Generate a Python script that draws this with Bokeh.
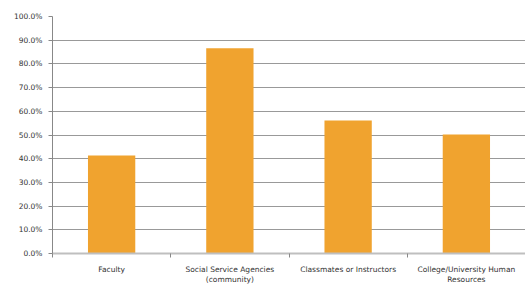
from bokeh.plotting import figure
from bokeh.models import FixedTicker, PrintfTickFormatter, Range1d
from bokeh.embed import file_html
from bokeh.resources import INLINE

categories = ["Faculty", "Social Service Agencies\n(community)", "Classmates or Instructors",
              "College/University Human\nResources"]
values = [41.4, 86.6, 56.1, 50.2]
y_ticks = [0, 10, 20, 30, 40, 50, 60, 70, 80, 90, 100]

x_pos = [i + 0.5 for i in range(len(categories))]

p = figure(width=525, height=287, output_backend="svg", toolbar_location=None,
           x_range=Range1d(0, len(categories)), y_range=Range1d(0, 100),
           min_border_left=52, min_border_right=0, min_border_top=16, min_border_bottom=30)
p.vbar(x=x_pos, top=values, width=0.4, color="#F0A32F", line_color=None)

p.outline_line_color = None
p.xgrid.grid_line_color = None
p.ygrid.grid_line_color = "#999999"
p.ygrid.ticker = FixedTicker(ticks=y_ticks[1:])

p.yaxis.ticker = FixedTicker(ticks=y_ticks)
p.yaxis.formatter = PrintfTickFormatter(format="%.1f%%")
p.yaxis.axis_line_color = "#888888"
p.yaxis.major_tick_line_color = "#888888"
p.yaxis.major_tick_out = 4
p.yaxis.major_tick_in = 0
p.yaxis.minor_tick_line_color = None
p.yaxis.major_label_text_font = "DejaVu Sans"
p.yaxis.major_label_text_font_size = "7.5px"
p.yaxis.major_label_text_color = "#333333"
p.yaxis.major_label_standoff = 6

p.xaxis.ticker = FixedTicker(ticks=x_pos, minor_ticks=list(range(len(categories) + 1)))
p.xaxis.major_label_overrides = {x: c for x, c in zip(x_pos, categories)}
p.xaxis.major_tick_line_color = None
p.xaxis.minor_tick_line_color = "#888888"
p.xaxis.minor_tick_out = 4
p.xaxis.minor_tick_in = 0
p.xaxis.axis_line_color = "#bfbfbf"
p.xaxis.axis_line_width = 2
p.xaxis.major_label_text_font = "DejaVu Sans"
p.xaxis.major_label_text_font_size = "7.5px"
p.xaxis.major_label_text_color = "#333333"
p.xaxis.major_label_standoff = 5

open("out.html", "w").write(file_html(p, INLINE))
